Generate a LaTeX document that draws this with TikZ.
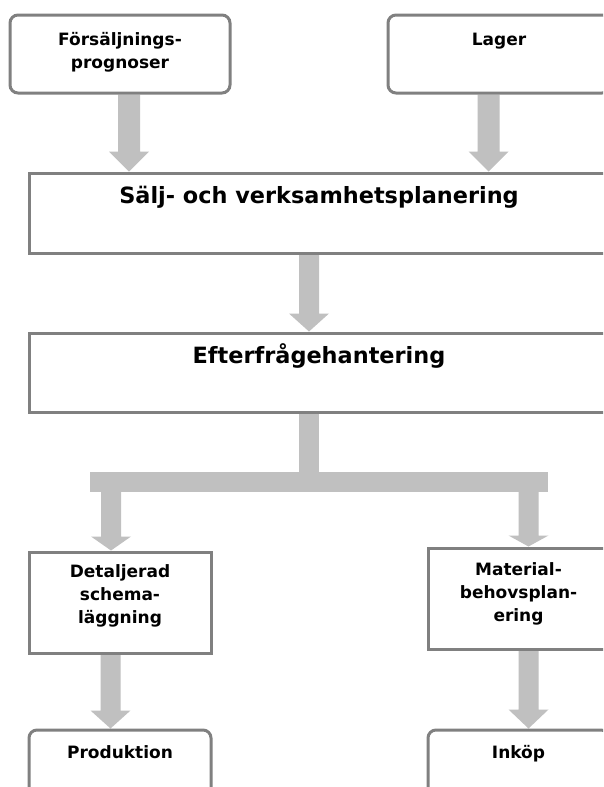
\documentclass[tikz,border=0pt]{standalone}
\usepackage{fontspec}
\setmainfont{DejaVu Sans}
\usetikzlibrary{calc,backgrounds}

\definecolor{boxgray}{HTML}{808080}
\definecolor{arrowfill}{HTML}{C0C0C0}

% filled block arrow: tail, tip, half shaft width, head length
\newcommand\blockarrow[4]{%
  \fill[arrowfill] let \p1=(#1), \p2=(#2) in
    (\x1-#3,\y1) -- (\x1+#3,\y1) -- (\x1+#3,\y2+#4) -- (\x1+20pt,\y2+#4)
    -- (\x1,\y2) -- (\x1-20pt,\y2+#4) -- (\x1-#3,\y2+#4) -- cycle;}

\tikzset{
  boxline/.style={draw=boxgray, line width=3pt, fill=white, inner sep=0pt},
  sharpbox/.style={boxline, rectangle},
  roundbox/.style={boxline, rectangle, rounded corners=8pt},
  smalltext/.style={font={\bfseries\fontsize{17}{23}\selectfont}, align=center, inner sep=0pt},
  bigtext/.style={font={\bfseries\fontsize{22.4}{27}\selectfont}, inner sep=0pt, anchor=base},
}

\begin{document}
\begin{tikzpicture}[x=1pt, y=-1pt]
  \useasboundingbox (0,0) rectangle (603,787);
  \clip (0,0) rectangle (603,787);

  % boxes
  \node[roundbox, minimum width=220pt, minimum height=78pt] (fs) at (120,54) {};
  \node[roundbox, minimum width=222pt, minimum height=78pt] (lager) at (499,54) {};
  \node[sharpbox, minimum width=580pt, minimum height=80pt] (sv) at (319,213) {};
  \node[sharpbox, minimum width=580pt, minimum height=79pt] (eh) at (319,372.5) {};
  \node[sharpbox, minimum width=182pt, minimum height=101pt] (dd) at (120,602.5) {};
  \node[sharpbox, minimum width=181pt, minimum height=101pt] (mb) at (518.5,598.5) {};
  \node[roundbox, minimum width=182pt, minimum height=80pt] (prod) at (120,770) {};
  \node[roundbox, minimum width=181pt, minimum height=80pt] (ink) at (518.5,770) {};

  % labels
  \node[smalltext, anchor=north] (fs-t) at ([yshift=-19pt]fs.north) {Försäljnings-\\prognoser};
  \node[smalltext, anchor=base] (lager-t) at ([yshift=-32pt]lager.north) {Lager};
  \node[bigtext] (sv-t) at ([yshift=-32pt]sv.north) {Sälj- och verksamhetsplanering};
  \node[bigtext] (eh-t) at ([yshift=-32pt]eh.north) {Efterfrågehantering};
  \node[smalltext, anchor=north] (dd-t) at ([yshift=-14pt]dd.north) {Detaljerad\\schema-\\läggning};
  \node[smalltext, anchor=north] (mb-t) at ([yshift=-16pt]mb.north) {Material-\\behovsplan-\\ering};
  \node[smalltext, anchor=base] (prod-t) at ([yshift=-30pt]prod.north) {Produktion};
  \node[smalltext, anchor=base] (ink-t) at ([yshift=-30pt]ink.north) {Inköp};

  % connector points
  \coordinate (a1) at ([xshift=9pt]fs.south);
  \coordinate (a2) at ([xshift=-10.5pt]lager.south);
  \coordinate (a3) at ([xshift=-10pt]sv.south);
  \coordinate (a4) at ([xshift=-10pt]eh.south);
  \coordinate (split) at (309,482);
  \coordinate (barL) at (90,482);
  \coordinate (barR) at (548,482);
  \coordinate (brL) at (111,482);
  \coordinate (brR) at (528.5,482);
  \coordinate (a5) at ([xshift=-9.5pt]dd.south);
  \coordinate (a6) at ([xshift=10pt]mb.south);

  \begin{scope}[on background layer]
    \fill[white] (0,0) rectangle (603,787);
    \blockarrow{a1}{a1 |- sv.north}{11pt}{20pt}
    \blockarrow{a2}{a2 |- sv.north}{11pt}{20pt}
    \blockarrow{a3}{a3 |- eh.north}{10pt}{18pt}
    \fill[arrowfill] (a4) ++(-10,0) rectangle ($(split)+(10,0)$);
    \fill[arrowfill] ($(barL)+(0,-10)$) rectangle ($(barR)+(0,10)$);
    \blockarrow{brL}{brL |- dd.north}{10pt}{14pt}
    \blockarrow{brR}{brR |- mb.north}{10pt}{11pt}
    \blockarrow{a5}{a5 |- prod.north}{10pt}{18pt}
    \blockarrow{a6}{a6 |- ink.north}{10pt}{19pt}
  \end{scope}
\end{tikzpicture}
\end{document}
